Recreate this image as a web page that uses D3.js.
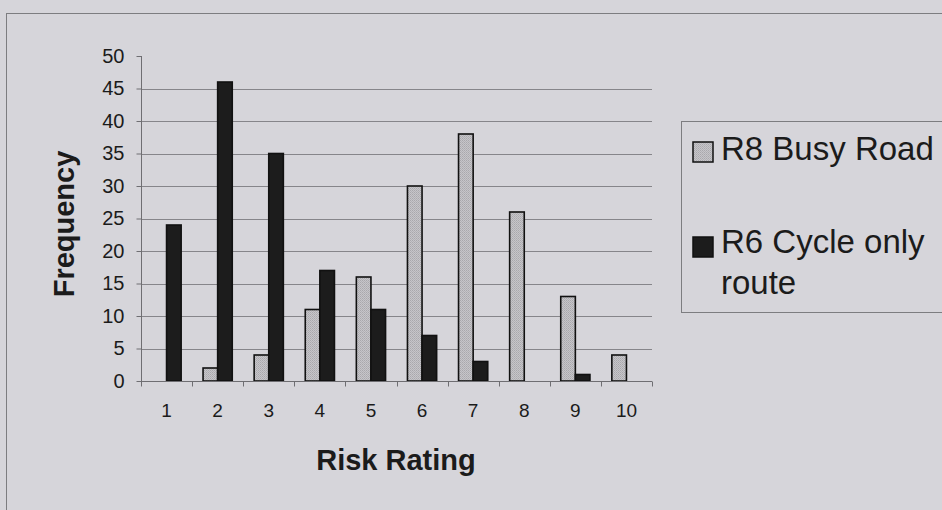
<!DOCTYPE html>
<html>
<head>
<meta charset="utf-8">
<script src="https://cdn.jsdelivr.net/npm/d3@7"></script>
<style>
  html, body { margin: 0; padding: 0; background: #d6d5da; }
  svg { display: block; }
  text { font-family: "Liberation Sans", Arial, sans-serif; fill: #1b1b1b; }
</style>
</head>
<body>
<svg id="chart" width="942" height="510"></svg>
<script>
// Risk ratings 1..10 and frequency of each rating per route
const categories = ["1", "2", "3", "4", "5", "6", "7", "8", "9", "10"];
const seriesNames = ["R8 Busy Road", "R6 Cycle only route"];
const busyRoad = [0, 2, 4, 11, 16, 30, 38, 26, 13, 4];
const cycleRoute = [24, 46, 35, 17, 11, 7, 3, 0, 1, 0];
const yTicks = [0, 5, 10, 15, 20, 25, 30, 35, 40, 45, 50];

const svg = d3.select("#chart");
const W = 942, H = 510;

// dotted grey fill for the busy-road bars
const defs = svg.append("defs");
const pat = defs.append("pattern").attr("id", "dots")
  .attr("width", 2).attr("height", 2).attr("patternUnits", "userSpaceOnUse");
pat.append("rect").attr("width", 2).attr("height", 2).attr("fill", "#c6c5c9");
pat.append("rect").attr("width", 1).attr("height", 1).attr("fill", "#a9a8ac");
pat.append("rect").attr("x", 1).attr("y", 1).attr("width", 1).attr("height", 1).attr("fill", "#b3b2b6");

// chart area frame
svg.append("rect").attr("x", 6.5).attr("y", 13.5).attr("width", W).attr("height", H)
  .attr("fill", "#d6d5da").attr("stroke", "#7d7d80").attr("stroke-width", 1);

const plot = { left: 141, right: 652, top: 56, bottom: 381 };

const x = d3.scaleBand().domain(categories).range([plot.left, plot.right]).padding(0);
const xs = d3.scaleBand().domain(seriesNames).range([0, x.bandwidth()])
  .paddingInner(0).paddingOuter(0.75);
const y = d3.scaleLinear().domain([0, 50]).range([plot.bottom, plot.top]);

// horizontal gridlines (none at the top value)
svg.append("g").selectAll("line").data(yTicks.filter(d => d > 0 && d < 50)).join("line")
  .attr("x1", plot.left).attr("x2", plot.right)
  .attr("y1", d => Math.round(y(d)) + 0.5).attr("y2", d => Math.round(y(d)) + 0.5)
  .attr("stroke", "#86858a").attr("stroke-width", 1);

// bars
const colors = { "R8 Busy Road": "url(#dots)", "R6 Cycle only route": "#1c1c1c" };
const data = categories.flatMap((c, i) => [
  { c, s: seriesNames[0], v: busyRoad[i] },
  { c, s: seriesNames[1], v: cycleRoute[i] }
]).filter(d => d.v > 0);

svg.append("g").selectAll("rect").data(data).join("rect")
  .attr("x", d => x(d.c) + xs(d.s))
  .attr("y", d => y(d.v))
  .attr("width", xs.bandwidth())
  .attr("height", d => y(0) - y(d.v))
  .attr("fill", d => colors[d.s])
  .attr("stroke", "#111")
  .attr("stroke-width", 1.6);

// y axis
const yAxis = d3.axisLeft(y).tickValues(yTicks).tickSize(5).tickPadding(12);
const gy = svg.append("g").attr("transform", `translate(${plot.left + 0.5},0)`).call(yAxis);
gy.select(".domain").attr("d", `M0,${plot.top}V${plot.bottom + 5}`);
gy.selectAll("path,line").attr("stroke", "#6f6e72");
gy.selectAll("text").style("font-size", "20px").attr("fill", "#222");

// x axis: tick marks at category boundaries, labels centred in each category
const gx = svg.append("g").attr("transform", `translate(0,${plot.bottom + 0.5})`);
gx.append("line").attr("x1", plot.left).attr("x2", plot.right)
  .attr("stroke", "#6f6e72");
gx.selectAll("line.tick").data(d3.range(categories.length + 1)).join("line")
  .attr("class", "tick")
  .attr("x1", i => Math.round(plot.left + i * x.step()) + 0.5)
  .attr("x2", i => Math.round(plot.left + i * x.step()) + 0.5)
  .attr("y1", 0).attr("y2", 5).attr("stroke", "#6f6e72");
gx.selectAll("text").data(categories).join("text")
  .attr("x", d => x(d) + x.bandwidth() / 2)
  .attr("y", 35)
  .attr("text-anchor", "middle")
  .style("font-size", "19px")
  .attr("fill", "#222")
  .text(d => d);

// axis titles
svg.append("text").attr("x", 396).attr("y", 470).attr("text-anchor", "middle")
  .style("font-size", "29px").style("font-weight", "bold").text("Risk Rating");
svg.append("text").attr("transform", "translate(74,224) rotate(-90)")
  .attr("text-anchor", "middle")
  .style("font-size", "29px").style("font-weight", "bold").text("Frequency");

// legend
const lg = svg.append("g");
lg.append("rect").attr("x", 681.5).attr("y", 121.5).attr("width", 300).attr("height", 191)
  .attr("fill", "#d6d5da").attr("stroke", "#7d7d80");
const legendRows = [
  { s: seriesNames[0], sy: 142, lines: ["R8 Busy Road"], base: 160 },
  { s: seriesNames[1], sy: 237, lines: ["R6 Cycle only", "route"], base: 253 }
];
legendRows.forEach(r => {
  lg.append("rect").attr("x", 693).attr("y", r.sy).attr("width", 20).attr("height", 20)
    .attr("fill", colors[r.s]).attr("stroke", "#111").attr("stroke-width", 1.5);
  r.lines.forEach((t, k) => {
    lg.append("text").attr("x", 721).attr("y", r.base + k * 41)
      .style("font-size", "33px").text(t);
  });
});
</script>
</body>
</html>
